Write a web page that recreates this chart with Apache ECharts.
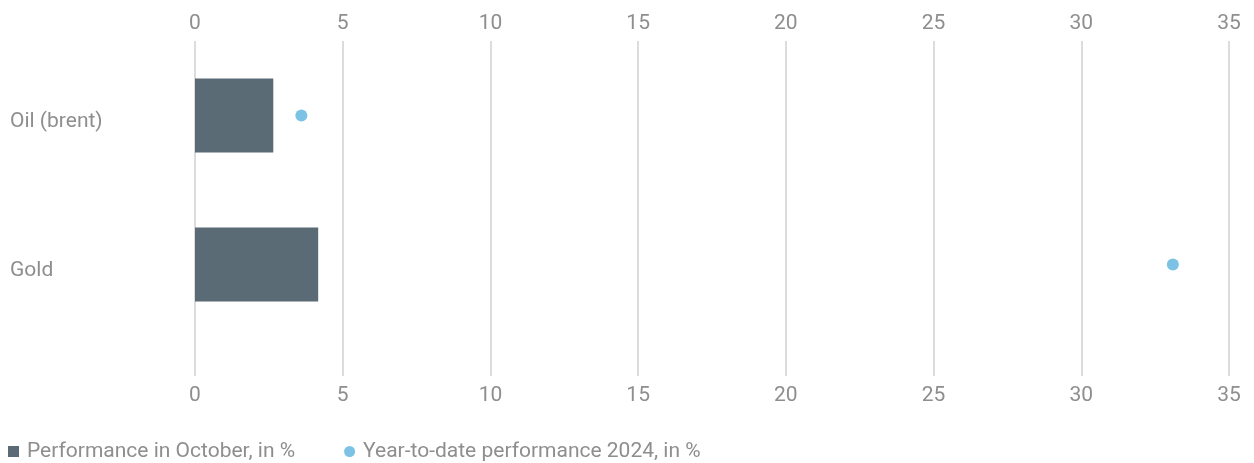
<!DOCTYPE html>
<html>
<head>
<meta charset="utf-8">
<script src="https://cdn.jsdelivr.net/npm/echarts@6/dist/echarts.min.js"></script>
<style>
  html, body { margin: 0; padding: 0; background: #fff; }
  #chart { width: 1254px; height: 463px; }
</style>
</head>
<body>
<div id="chart"></div>
<script>
const categories = ["Oil (brent)", "Gold"];
const octoberPerf = [2.65, 4.17];
const ytdPerf = [3.6, 33.1];
const seriesNames = ["Performance in October, in %", "Year-to-date performance 2024, in %"];

const textColor = "#8e8e8e";
const font = "Roboto, 'Liberation Sans', sans-serif";

const chart = echarts.init(document.getElementById("chart"));

const xAxisBase = {
  type: "value",
  min: 0,
  max: 35,
  interval: 5,
  axisLine: { show: false },
  axisTick: { show: false },
  splitLine: { show: true, lineStyle: { color: "#dcdcdc", width: 2 } },
};

const option = {
  animation: false,
  grid: [
    { left: 195, right: 25, top: 41, height: 298 },
    { left: 195, right: 25, top: 339, height: 37 },
  ],
  xAxis: [
    Object.assign({}, xAxisBase, {
      gridIndex: 0,
      position: "top",
      axisLabel: { color: textColor, fontSize: 21, fontFamily: font, margin: 7 },
    }),
    Object.assign({}, xAxisBase, {
      gridIndex: 1,
      position: "bottom",
      axisLabel: { color: textColor, fontSize: 21, fontFamily: font, margin: 9 },
    }),
  ],
  yAxis: [
    {
      type: "category",
      gridIndex: 0,
      inverse: true,
      data: categories,
      axisLine: { show: false },
      axisTick: { show: false },
      axisLabel: {
        align: "left",
        margin: 185,
        formatter: (v) => "{t|" + v + "}",
        rich: {
          t: { color: textColor, fontSize: 21, fontFamily: font, padding: [12, 0, 0, 0] },
        },
      },
    },
    { type: "value", gridIndex: 1, show: false },
  ],
  legend: {
    left: 3,
    bottom: -4,
    itemWidth: 11,
    itemHeight: 11,
    itemGap: 49,
    textStyle: { color: textColor, fontSize: 21, fontFamily: font, padding: [0, 0, 0, 3] },
    data: [
      { name: seriesNames[0], icon: "rect" },
      { name: seriesNames[1], icon: "circle" },
    ],
  },
  series: [
    {
      name: seriesNames[0],
      type: "bar",
      data: octoberPerf,
      barWidth: 74,
      itemStyle: { color: "#5b6b76" },
    },
    {
      name: seriesNames[1],
      type: "scatter",
      data: ytdPerf,
      symbolSize: 12,
      itemStyle: { color: "#5ab3df" },
    },
  ],
};

chart.setOption(option);
</script>
</body>
</html>
